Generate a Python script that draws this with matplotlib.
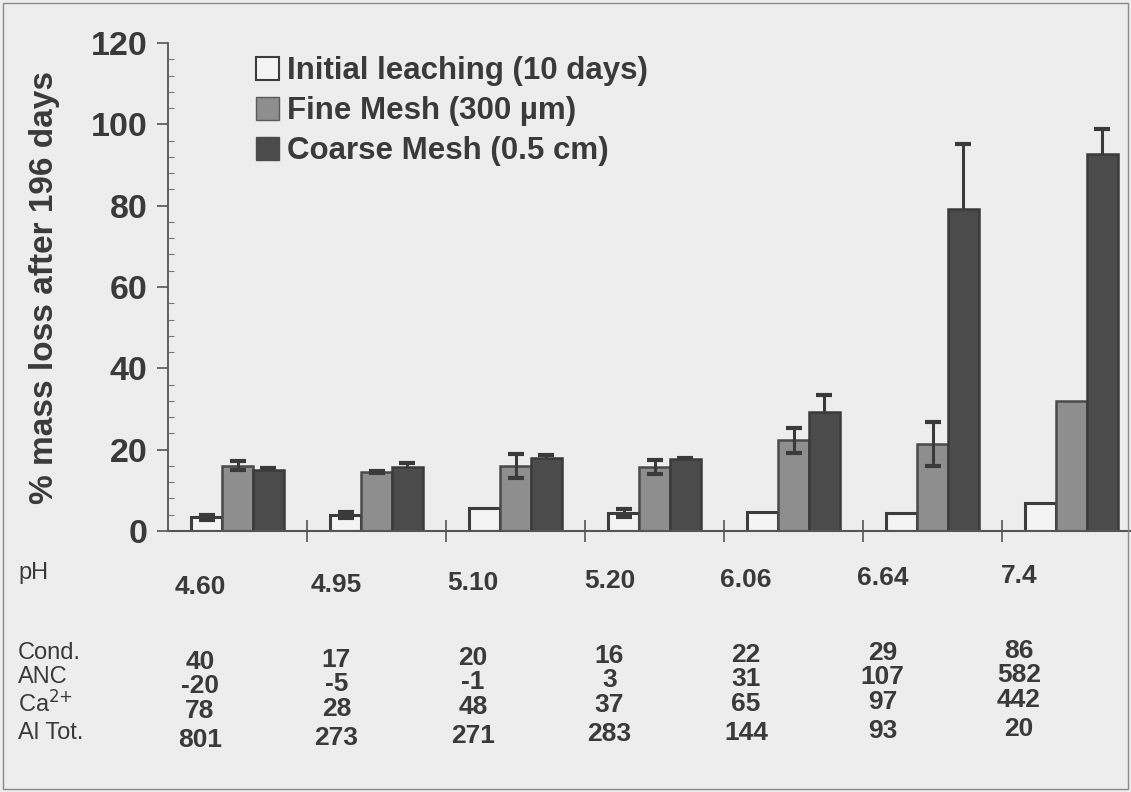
import numpy as np
import matplotlib
matplotlib.use("Agg")
import matplotlib.pyplot as plt
from matplotlib.patches import Patch, Rectangle

plt.rcParams['font.family'] = ['Liberation Sans', 'DejaVu Sans']
plt.rcParams['mathtext.default'] = 'regular'

# bar values (% mass loss after 196 days), nan = no error bar drawn
initial = [3.4, 3.9, 5.6, 4.5, 4.7, 4.4, 6.9]
initial_err = [0.6, 0.8, np.nan, 1.0, np.nan, np.nan, np.nan]
fine = [16.0, 14.5, 16.0, 15.7, 22.3, 21.4, 31.9]
fine_err = [1.1, 0.2, 3.0, 1.7, 3.0, 5.4, np.nan]
coarse = [15.0, 15.7, 18.0, 17.7, 29.2, 79.1, 92.6]
coarse_err = [0.4, 1.1, 0.8, 0.3, 4.2, 16.0, 6.2]

legend_labels = ['Initial leaching (10 days)', 'Fine Mesh (300 µm)', 'Coarse Mesh (0.5 cm)']

# table under the chart
row_labels = ['pH', 'Cond.', 'ANC', r'Ca$^{\text{2+}}$', 'Al Tot.']
ph = ['4.60', '4.95', '5.10', '5.20', '6.06', '6.64', '7.4']
cond = ['40', '17', '20', '16', '22', '29', '86']
anc = ['-20', '-5', '-1', '3', '31', '107', '582']
ca = ['78', '28', '48', '37', '65', '97', '442']
al_tot = ['801', '273', '271', '283', '144', '93', '20']
table_rows = [ph, cond, anc, ca, al_tot]

bg = '#ededed'
txt = '#3a3a3a'
fig = plt.figure(figsize=(11.31, 7.92), dpi=100, facecolor=bg)
ax = fig.add_axes([168 / 1131, 1 - 531 / 792, 973 / 1131, 488 / 792])
ax.set_facecolor('none')

x = np.arange(len(initial))
w = 0.223
ekw = dict(ecolor='#3a3a3a', elinewidth=2.2, capsize=6, capthick=3)
ax.bar(x - w, initial, w, color='#f4f4f4', edgecolor='#3c3c3c', linewidth=2.2,
       yerr=initial_err, error_kw=ekw, zorder=2)
ax.bar(x, fine, w, color='#8e8e8e', edgecolor='#4a4a4a', linewidth=1.8,
       yerr=fine_err, error_kw=ekw, zorder=2)
# coarse error bars sit behind the dark bars, so only the upper half shows
ax.bar(x + w, coarse, w, color='#4b4b4b', edgecolor='#3a3a3a', linewidth=1.8,
       yerr=coarse_err, error_kw=dict(ekw, zorder=1), zorder=2)

ax.set_xlim(-0.5, 6.5)
ax.set_ylim(0, 120)
ax.set_yticks(np.arange(0, 121, 20))
ax.set_yticks(np.arange(0, 121, 4), minor=True)
ax.set_xticks(np.arange(0.5, 6.6, 1.0))
ax.set_xticklabels([])
ax.tick_params(axis='x', direction='inout', length=16, width=1.2, color='#555555')
ax.tick_params(axis='y', which='major', direction='out', length=8, width=1.2,
               color='#555555', pad=7, labelsize=24.5, labelcolor=txt)
ax.tick_params(axis='y', which='minor', direction='in', length=4, width=0.8, color='#777777')
for lab in ax.get_yticklabels():
    lab.set_fontweight('bold')
for s in ['top', 'right']:
    ax.spines[s].set_visible(False)
ax.spines['left'].set_color('#555555')
ax.spines['bottom'].set_color('#555555')
ax.spines['left'].set_linewidth(1.3)
ax.spines['bottom'].set_linewidth(1.5)

fig.text(45 / 1131, 1 - 288 / 792, '% mass loss after 196 days', rotation=90,
         ha='center', va='center', fontsize=24, fontweight='bold', color=txt)

handles = [Patch(facecolor='#f4f4f4', edgecolor='#3c3c3c', linewidth=1.5),
           Patch(facecolor='#8e8e8e', edgecolor='#5a5a5a', linewidth=1),
           Patch(facecolor='#4b4b4b', edgecolor='#4b4b4b', linewidth=1)]
fig.legend(handles, legend_labels, loc='upper left',
           bbox_to_anchor=(256 / 1131, 1 - 56 / 792), frameon=False,
           prop={'size': 22.5, 'weight': 'bold'}, labelcolor=txt,
           handlelength=0.75, handleheight=0.75, handletextpad=0.25,
           labelspacing=0.32, borderpad=0, borderaxespad=0)

# table: row labels and values (scan is slightly skewed)
label_y = [573, 653, 677, 703, 733]
val_y = [576, 651, 675, 700, 729]
trans = ax.get_xaxis_transform()
for r, lab in enumerate(row_labels):
    fig.text(18 / 1131, 1 - label_y[r] / 792, lab, ha='left', va='center',
             fontsize=17, color=txt)
    for i, v in enumerate(table_rows[r]):
        ypx = val_y[r] + 1.8 * (6 - i)
        ax.text(i - 0.27 - 0.018 * i, (531 - ypx) / 488, v, transform=trans,
                ha='center', va='center', fontsize=19, fontweight='bold',
                color=txt, clip_on=False)

# scan border
fig.add_artist(Rectangle((0.003, 0.004), 0.994, 0.992, transform=fig.transFigure,
                         fill=False, edgecolor='#8a8a8a', linewidth=1.0))

fig.savefig('out.png', dpi=100, facecolor=bg)
